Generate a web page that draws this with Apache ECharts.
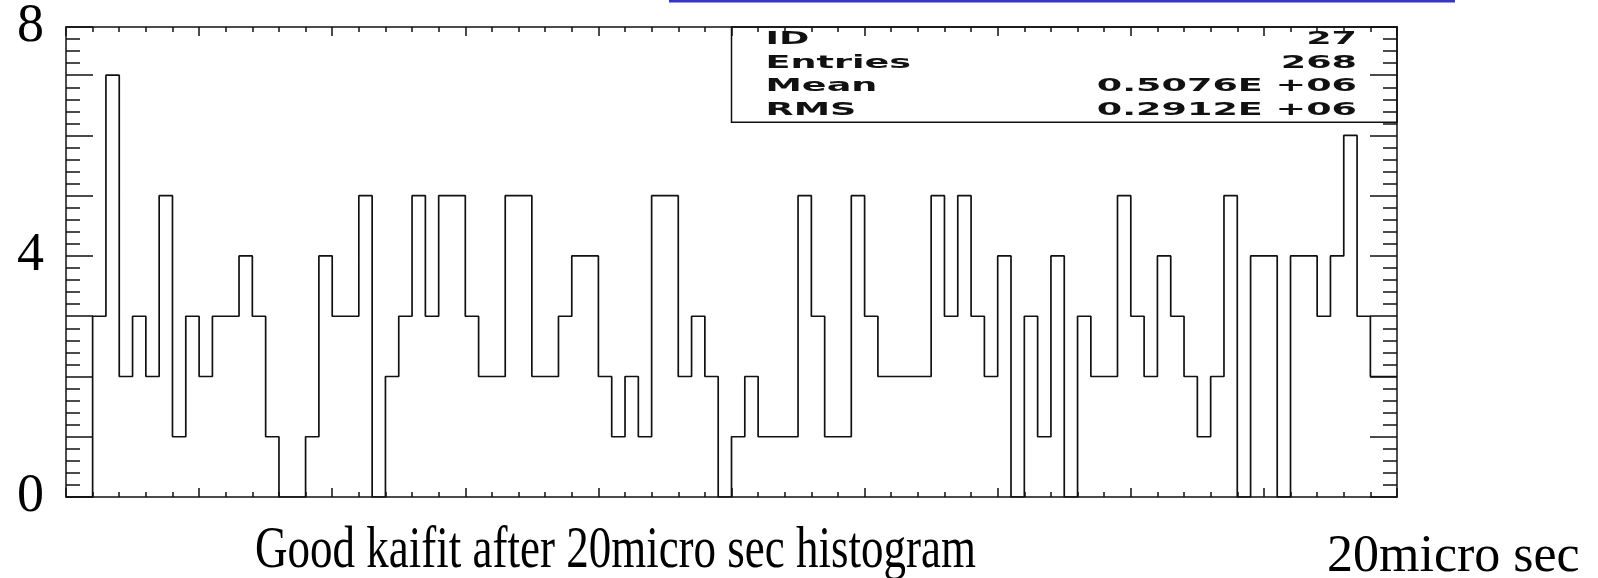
<!DOCTYPE html>
<html>
<head>
<meta charset="utf-8">
<script src="https://cdn.jsdelivr.net/npm/echarts@6/dist/echarts.min.js"></script>
<style>
html,body{margin:0;padding:0;background:#fff;}
#chart{width:1598px;height:578px;}
</style>
</head>
<body>
<div id="chart"></div>
<script>
// ---- data ----
const binCounts = [
  0,0,3,7,2,3,2,5,1,3,
  2,3,3,4,3,1,0,0,1,4,
  3,3,5,0,2,3,5,3,5,5,
  3,2,2,5,5,2,2,3,4,4,
  2,1,2,1,5,5,2,3,2,0,
  1,2,1,1,1,5,3,1,1,5,
  3,2,2,2,2,5,3,5,3,2,
  4,0,3,1,4,0,3,2,2,5,
  3,2,4,3,2,1,2,5,0,4,
  4,0,4,4,3,4,6,3,2,2
];
const yAxisMax = 7.8;
const yTickLabels = ['0', '4', '8'];
const yTickLabelValues = [0, 4, yAxisMax];
const statsLabels = ['ID', 'Entries', 'Mean', 'RMS'];
const statsValues = ['27', '268', '0.5076E +06', '0.2912E +06'];
const titleText = 'Good kaifit after 20micro sec histogram';
const unitText = '20micro sec';

// ---- chart ----
const chart = echarts.init(document.getElementById('chart'), null, {renderer: 'canvas'});
const nBins = binCounts.length;
const stepData = binCounts.map((v, i) => [i, v]);
stepData.push([nBins, binCounts[nBins - 1]]);

const ink = '#111';
const frame = {show: true, onZero: false, lineStyle: {color: ink, width: 1.5}};
const tickStyle = {color: ink, width: 1.5};
const xAxisBase = {
  type: 'value', min: 0, max: nBins, interval: 10,
  axisLine: frame,
  axisTick: {show: true, inside: true, length: 9, lineStyle: tickStyle},
  minorTick: {show: true, splitNumber: 5, length: 5, lineStyle: tickStyle},
  axisLabel: {show: false}, splitLine: {show: false}, minorSplitLine: {show: false}
};
function yAxisDef(pos, withLabels) {
  return {
    type: 'value', min: 0, max: yAxisMax, interval: 1, position: pos,
    axisLine: frame,
    axisTick: {show: true, inside: true, length: 27, lineStyle: tickStyle},
    minorTick: {show: true, splitNumber: 5, length: 14, lineStyle: tickStyle},
    splitLine: {show: false}, minorSplitLine: {show: false},
    axisLabel: withLabels ? {
      show: true, margin: 22, color: '#000', showMinLabel: true, showMaxLabel: true,
      fontFamily: 'Liberation Serif', fontSize: 54,
      formatter: v => {
        const k = yTickLabelValues.findIndex(t => Math.abs(t - v) < 1e-6);
        return k >= 0 ? yTickLabels[k] : '';
      }
    } : {show: false}
  };
}

chart.setOption({
  animation: false,
  backgroundColor: '#fff',
  grid: {left: 66, right: 201, top: 21, bottom: 81},
  xAxis: [
    Object.assign({}, xAxisBase, {position: 'bottom'}),
    Object.assign({}, xAxisBase, {position: 'top'})
  ],
  yAxis: [yAxisDef('left', true), yAxisDef('right', false)],
  series: [{
    type: 'line', step: 'end', xAxisIndex: 0, yAxisIndex: 0,
    symbol: 'none', data: stepData,
    lineStyle: {color: ink, width: 1.7}
  }]
});

// ---- annotations (positioned from the axes) ----
const px = v => chart.convertToPixel({xAxisIndex: 0}, v);
const py = v => chart.convertToPixel({yAxisIndex: 0}, v);
const boxL = px(nBins / 2), boxR = px(nBins), boxT = py(yAxisMax), boxB = py(6.22);
const g = [];
g.push({type: 'rect', shape: {x: 669, y: 0, width: 786, height: 2.5}, style: {fill: '#3535c8'}, silent: true});
g.push({type: 'rect', shape: {x: boxL, y: boxT, width: boxR - boxL, height: boxB - boxT},
  style: {fill: 'none', stroke: ink, lineWidth: 1.5}, silent: true});
const statFont = 'bold 17px "DejaVu Sans"';
statsLabels.forEach((t, i) => {
  const yy = boxT + 12.5 + i * 23.6;
  g.push({type: 'text', x: boxL + 34, y: yy, scaleX: 2.15, scaleY: 1,
    style: {text: t, font: statFont, fill: ink, align: 'left', textAlign: 'left', verticalAlign: 'middle', textVerticalAlign: 'middle'}});
  g.push({type: 'text', x: boxR - 40, y: yy, scaleX: 2.15, scaleY: 1,
    style: {text: statsValues[i], font: statFont, fill: ink, align: 'right', textAlign: 'right', verticalAlign: 'middle', textVerticalAlign: 'middle'}});
});
g.push({type: 'text', x: 255, y: 552, scaleX: 1, scaleY: 1.3,
  style: {text: titleText, font: '45px "Liberation Serif"', fill: '#000', align: 'left', textAlign: 'left', verticalAlign: 'middle', textVerticalAlign: 'middle'}});
g.push({type: 'text', x: 1327, y: 557,
  style: {text: unitText, font: '52px "Liberation Serif"', fill: '#000', align: 'left', textAlign: 'left', verticalAlign: 'middle', textVerticalAlign: 'middle'}});
chart.setOption({graphic: {elements: g}});
</script>
</body>
</html>
